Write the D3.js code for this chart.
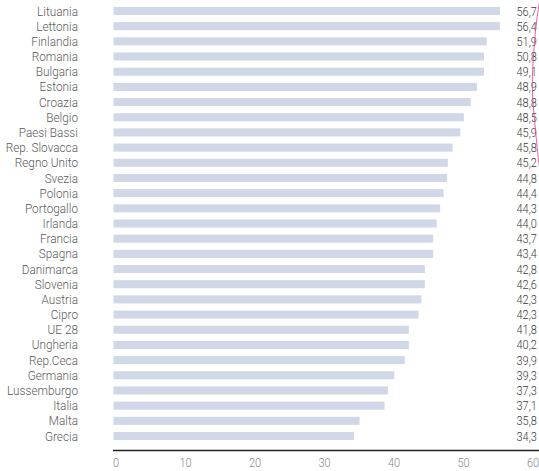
<!DOCTYPE html>
<html><head><meta charset="utf-8">
<script src="https://cdn.jsdelivr.net/npm/d3@7/dist/d3.min.js"></script>
<style>
body{margin:0;background:#fff;}
svg{display:block;}
text{font-family:Roboto,"DejaVu Sans",sans-serif;font-weight:300;}
</style></head><body>
<script>
const countries = ["Lituania","Lettonia","Finlandia","Romania","Bulgaria","Estonia","Croazia","Belgio","Paesi Bassi","Rep. Slovacca","Regno Unito","Svezia","Polonia","Portogallo","Irlanda","Francia","Spagna","Danimarca","Slovenia","Austria","Cipro","UE 28","Ungheria","Rep.Ceca","Germania","Lussemburgo","Italia","Malta","Grecia"];
const barValues = [55.6,55.6,53.7,53.3,53.3,52.3,51.4,50.4,49.9,48.8,48.1,48.0,47.5,47.0,46.5,46.0,46.0,44.8,44.8,44.3,43.9,42.5,42.5,41.9,40.4,39.5,39.0,35.4,34.6];
const labelValues = ["56,7","56,4","51,9","50,8","49,1","48,9","48,8","48,5","45,9","45,8","45,2","44,8","44,4","44,3","44,0","43,7","43,4","42,8","42,6","42,3","42,3","41,8","40,2","39,9","39,3","37,3","37,1","35,8","34,3"];
const tickValues = [0,10,20,30,40,50,60];
// pink hand-drawn stroke, in (value, row index) units
const pinkStroke = [[61.4,-0.9],[60.9,0.6],[60.5,2.5],[60.26,5],[60.75,8],[61.15,9.8],[61.3,10.3]];

const W = 539, H = 471;
const svg = d3.select("body").append("svg").attr("width", W).attr("height", H);

const x = d3.scaleLinear().domain([0,60]).range([113.5,530.5]);
const y = d3.scaleBand().domain(countries).range([3.4, 443.6]).paddingInner(0.47).paddingOuter(0.235);
const squeezeLabel = 0.88, squeezeVal = 0.82;
const fs = 13.4;

svg.append("g").selectAll("rect").data(countries).join("rect")
  .attr("x", x(0))
  .attr("y", d => y(d))
  .attr("width", (d,i) => x(barValues[i]) - x(0))
  .attr("height", y.bandwidth())
  .attr("fill", "#d0d7e6");

svg.append("g").attr("transform", `translate(78,0) scale(${squeezeLabel},1)`)
  .selectAll("text").data(countries).join("text")
  .attr("x", 0)
  .attr("y", d => y(d) + y.bandwidth()/2)
  .attr("dy", "0.34em")
  .attr("text-anchor", "end")
  .attr("font-size", fs)
  .attr("fill", "#5a5a5a")
  .text(d => d);

svg.append("g").attr("transform", `translate(516.5,0) scale(${squeezeVal},1)`)
  .selectAll("text").data(countries).join("text")
  .attr("x", 0)
  .attr("y", d => y(d) + y.bandwidth()/2)
  .attr("dy", "0.34em")
  .attr("font-size", fs)
  .attr("fill", "#3c3c3c")
  .text((d,i) => labelValues[i]);

// axis
const axis = d3.axisBottom(x).tickValues(tickValues).tickSize(0).tickPadding(7).tickFormat(d3.format("d"));
const ag = svg.append("g").attr("transform", "translate(0,450.5)").attr("opacity", 0.99).call(axis);
ag.select(".domain").remove();
ag.selectAll(".tick line").remove();
ag.selectAll(".tick text").attr("font-size", fs).attr("fill", "#888888")
  .attr("font-family", "Roboto, DejaVu Sans, sans-serif")
  .attr("font-weight", 300)
  .attr("x", 0)
  .attr("transform", `translate(2,0) scale(${squeezeVal},1)`);
svg.append("line").attr("x1", x(0) - 0.5).attr("x2", W).attr("y1", 450.5).attr("y2", 450.5)
  .attr("stroke", "#222").attr("stroke-width", 1.3);

const yRow = i => y(countries[0]) + y.bandwidth()/2 + i * y.step();
svg.append("path")
  .attr("d", d3.line().x(d => x(d[0])).y(d => yRow(d[1])).curve(d3.curveCatmullRom)(pinkStroke))
  .attr("fill", "none").attr("stroke", "#e0509a").attr("stroke-width", 0.9);
</script>
</body></html>
